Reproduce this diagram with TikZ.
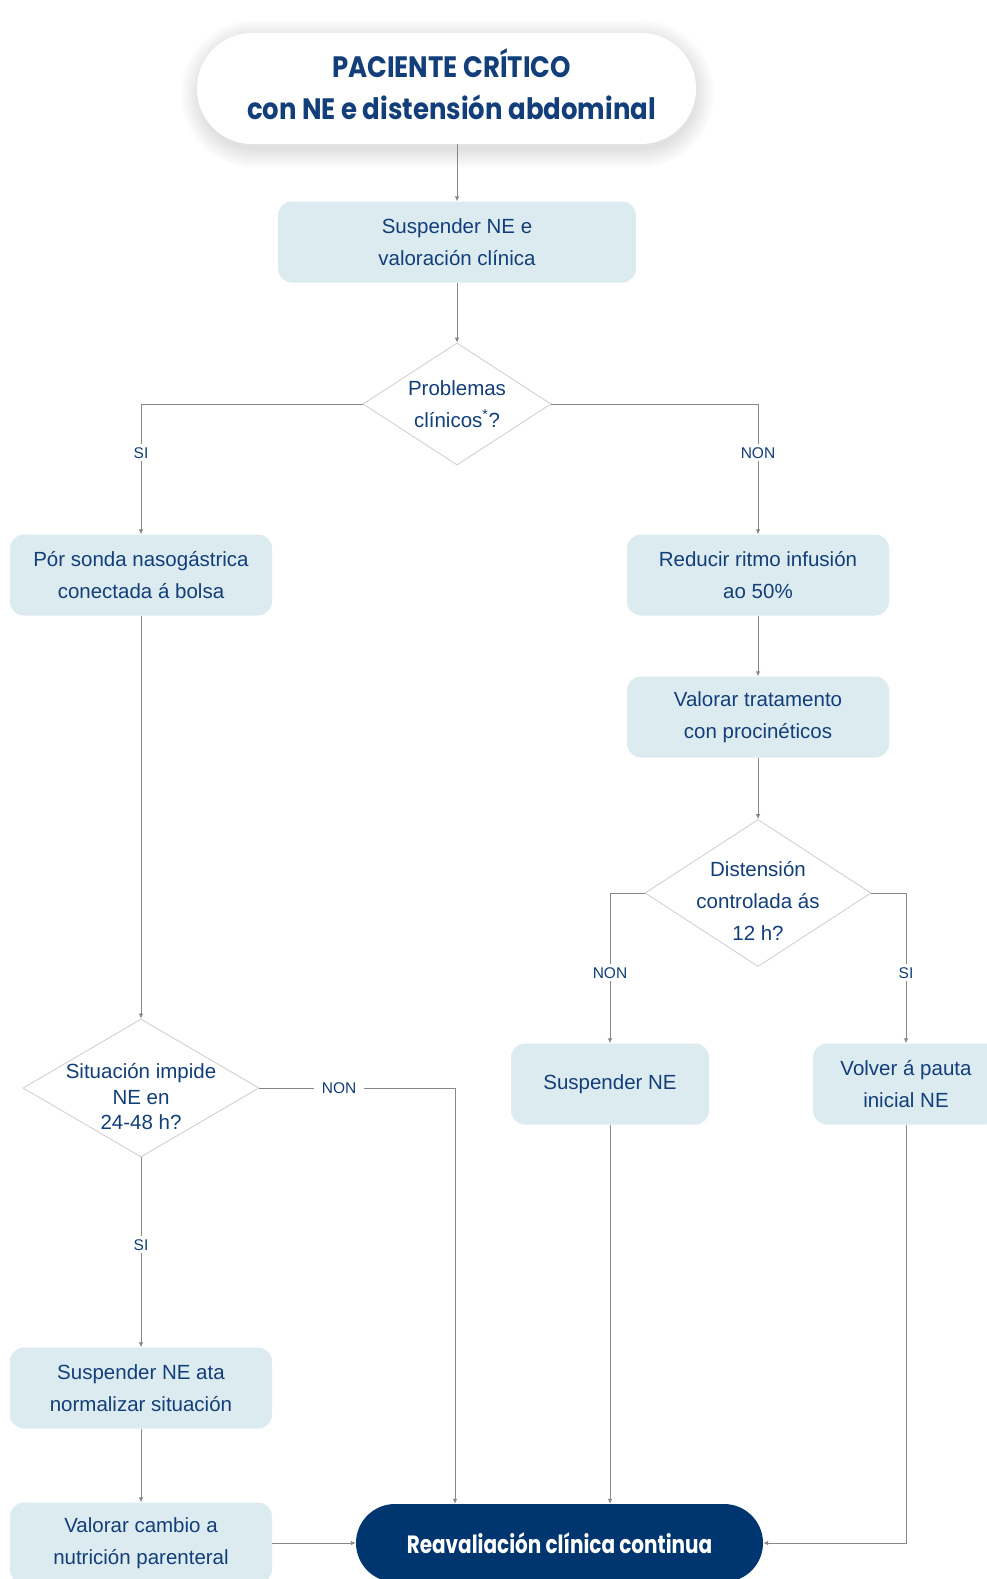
\documentclass[tikz,border=0pt]{standalone}
\usepackage{fontspec}
\setmainfont{Liberation Sans}
\newfontfamily\titlefont[FakeStretch=0.88]{Poppins}
\newfontfamily\pillfont[FakeStretch=0.8]{Poppins}
\usetikzlibrary{shapes.geometric,arrows.meta}
\definecolor{navy}{RGB}{18,62,122}
\definecolor{darkpill}{RGB}{0,54,112}
\definecolor{boxfill}{RGB}{220,235,240}
\definecolor{linegray}{RGB}{135,135,135}
\definecolor{diagray}{RGB}{205,205,205}
\begin{document}
\begin{tikzpicture}[x=1pt,y=-1pt,
  txt/.style={text=navy, align=center, font=\fontsize{20.5}{32}\selectfont},
  box/.style={txt, fill=boxfill, rounded corners=14pt, minimum height=81pt, inner sep=0pt},
  dia/.style={diamond, draw=diagray, line width=0.8pt, fill=white, inner sep=0pt},
  arr/.style={draw=linegray, line width=0.9pt, -{Latex[length=5pt,width=4.5pt]}},
  lab/.style={fill=white, text=navy, font=\fontsize{15.5}{15.5}\selectfont, inner xsep=5pt, inner ysep=3pt},
  titlebox/.style={fill=white, rounded corners=55pt, minimum width=499pt, minimum height=111pt},
  titletxt/.style={text=navy, align=center, font=\titlefont\bfseries\fontsize{29.5}{42}\selectfont},
  endpill/.style={fill=darkpill, rounded corners=39pt, minimum width=407pt, minimum height=78pt,
    text=white, font=\pillfont\bfseries\fontsize{25}{30}\selectfont},
  shadowstep/.style={fill=black, opacity=0.013}
]
\useasboundingbox (0,0) rectangle (987,1579);
\clip (0,0) rectangle (987,1579);
\fill[white] (0,0) rectangle (987,1579);

% soft shadow of the title
\foreach \i in {0,2,...,18}{
  \fill[shadowstep, rounded corners={55.5pt+\i pt}]
    ({199-\i},{38-\i}) rectangle ({696+\i},{150+\i});
}

\node[titlebox] (title) at (446.5,88.5) {};
\node[titletxt] at ([xshift=5pt,yshift=4pt]title.center) {PACIENTE CRÍTICO\\con NE e distensión abdominal};

\node[box, minimum width=358pt] (b1) at (457,242) {Suspender NE e\\valoración clínica};

\node[dia, minimum width=188pt, minimum height=122pt] (d1) at (457,404) {};
\node[txt] at (457,404) {Problemas\\clínicos\textsuperscript{*}?};

\node[box, minimum width=262pt] (l1) at (141,575) {Pór sonda nasogástrica\\conectada á bolsa};
\node[box, minimum width=262pt] (r1) at (758,575) {Reducir ritmo infusión\\ao 50\%};
\node[box, minimum width=262pt] (r2) at (758,717) {Valorar tratamento\\con procinéticos};

\node[dia, minimum width=226pt, minimum height=147pt] (d2) at (758,893) {};
\node[txt] at (758,901) {Distensión\\controlada ás\\12 h?};

\node[box, minimum width=198pt] (s) at (610,1084) {Suspender NE};
\node[box, minimum width=186pt] (v) at (906,1084) {Volver á pauta\\inicial NE};

\node[dia, minimum width=236pt, minimum height=138pt] (d3) at (141,1088) {};
\node[txt, font=\fontsize{20.5}{25.5}\selectfont] at (141,1097) {Situación impide\\NE en\\24-48 h?};

\node[box, minimum width=262pt] (l3) at (141,1388) {Suspender NE ata\\normalizar situación};
\node[box, minimum width=262pt] (l4) at (141,1543) {Valorar cambio a\\nutrición parenteral};

\node[endpill] (pill) at (559.5,1543) {Reavaliación clínica continua};

% connectors
\draw[arr] (title.south -| b1) -- (b1);
\draw[arr] (b1) -- (d1);
\draw[arr] (d1.west) -| node[lab, pos=0.687] {SI} (l1.north);
\draw[arr] (d1.east) -| node[lab, pos=0.687] {NON} (r1.north);
\draw[arr] (l1) -- (d3);
\draw[arr] (r1) -- (r2);
\draw[arr] (r2) -- (d2);
\draw[arr] (d2.west) -| node[lab, pos=0.765] {NON} (s.north);
\draw[arr] (d2.east) -| node[lab, pos=0.765] {SI} (v.north);
\draw[arr] (d3.east) -| node[lab, pos=0.204, inner xsep=8pt] {NON} ([xshift=-104.5pt]pill.north);
\draw[arr] (d3) -- node[lab, pos=0.46] {SI} (l3);
\draw[arr] (l3) -- (l4);
\draw[arr] (l4.east) -- (pill.west);
\draw[arr] (s.south) -- (s.south |- pill.north);
\draw[arr] (v.south) |- (pill.east);
\end{tikzpicture}
\end{document}
